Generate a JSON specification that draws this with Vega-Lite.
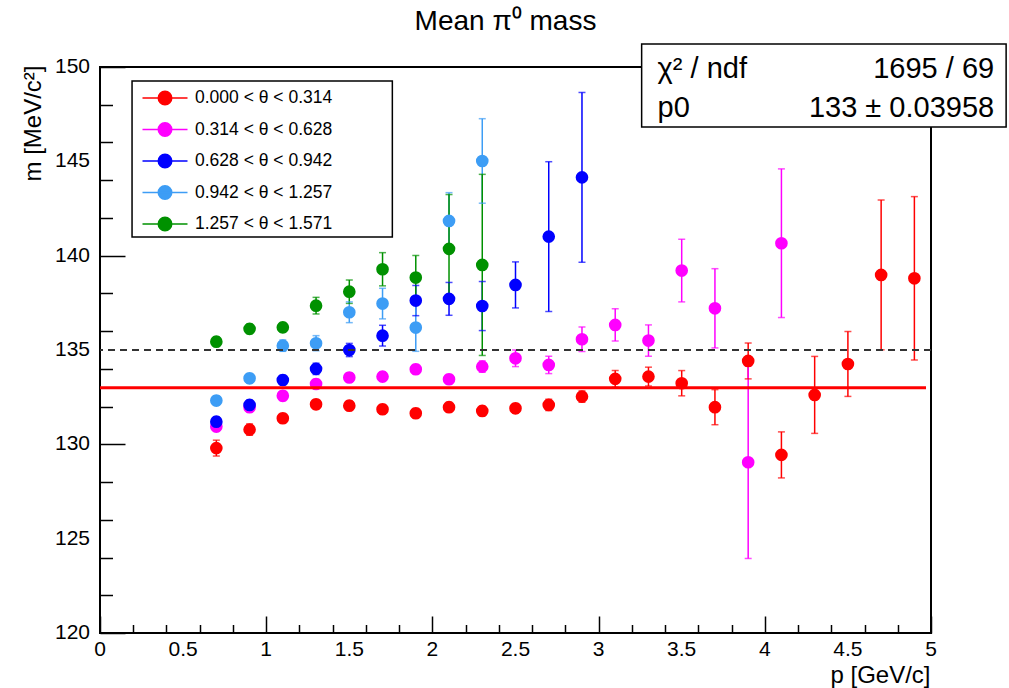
{
  "$schema": "https://vega.github.io/schema/vega-lite/v6.json",
  "width": 831,
  "height": 566,
  "autosize": "none",
  "padding": {"left": 100, "top": 67, "right": 78, "bottom": 55},
  "background": "white",
  "title": {"text": "Mean π⁰ mass", "font": "Liberation Sans", "fontSize": 28, "fontWeight": "normal", "color": "black", "anchor": "middle", "frame": "group", "dx": -10, "dy": 30, "offset": 15, "baseline": "alphabetic"},
  "config": {"view": {"stroke": "black", "strokeWidth": 2}, "font": "Liberation Sans",
    "axisX": {
      "values": [0,0.1,0.2,0.3,0.4,0.5,0.6,0.7,0.8,0.9,1,1.1,1.2,1.3,1.4,1.5,1.6,1.7,1.8,1.9,2,2.1,2.2,2.3,2.4,2.5,2.6,2.7,2.8,2.9,3,3.1,3.2,3.3,3.4,3.5,3.6,3.7,3.8,3.9,4,4.1,4.2,4.3,4.4,4.5,4.6,4.7,4.8,4.9,5],
      "labelExpr": "''",
      "tickSize": {"expr": "abs(datum.value*2 - round(datum.value*2)) < 0.001 ? -17 : -8.5"},
      "tickColor": "black", "tickWidth": 1.5,
      "domain": false, "grid": false,
      "labelPadding": 24,
      "titleFont": "Liberation Sans", "titleFontSize": 24, "titleFontWeight": "normal", "titleColor": "black",
      "titleAnchor": "end", "titleAlign": "right", "titleBaseline": "alphabetic", "titleX": 830, "titleY": 49
    },
    "axisY": {
      "values": [120,121,122,123,124,125,126,127,128,129,130,131,132,133,134,135,136,137,138,139,140,141,142,143,144,145,146,147,148,149,150],
      "labelExpr": "''",
      "tickSize": {"expr": "datum.value % 5 === 0 ? -25 : -12.5"},
      "tickColor": "black", "tickWidth": 1.5,
      "domain": false, "grid": false,
      "labelPadding": 35,
      "titleFont": "Liberation Sans", "titleFontSize": 24, "titleFontWeight": "normal", "titleColor": "black",
      "titleAnchor": "end", "titleAngle": 270, "titleAlign": "right", "titleBaseline": "alphabetic", "titleX": -60, "titleY": -2
    },
    "legend": {
      "orient": "none", "legendX": 52, "legendY": 18,
      "symbolType": "M-1.875,0L1.875,0M0.5625,0A0.5625,0.5625,0,1,1,-0.5625,0A0.5625,0.5625,0,1,1,0.5625,0Z",
      "symbolSize": 576, "symbolStrokeWidth": 1.5, "symbolOpacity": 1,
      "labelFont": "Liberation Sans", "labelFontSize": 17.5, "labelColor": "black",
      "labelOffset": 17, "rowPadding": 8.5, "padding": 0, "labelLimit": 0
    }
  },
  "datasets": {
    "pts": [
      {"s": "0.000 < θ < 0.314", "p": 0.7, "m": 129.8, "lo": 129.38, "hi": 130.22},
      {"s": "0.000 < θ < 0.314", "p": 0.9, "m": 130.78, "lo": 130.48, "hi": 131.08},
      {"s": "0.000 < θ < 0.314", "p": 1.1, "m": 131.38, "lo": 131.13, "hi": 131.63},
      {"s": "0.000 < θ < 0.314", "p": 1.3, "m": 132.12, "lo": 131.87, "hi": 132.37},
      {"s": "0.000 < θ < 0.314", "p": 1.5, "m": 132.05, "lo": 131.8, "hi": 132.3},
      {"s": "0.000 < θ < 0.314", "p": 1.7, "m": 131.86, "lo": 131.61, "hi": 132.11},
      {"s": "0.000 < θ < 0.314", "p": 1.9, "m": 131.65, "lo": 131.4, "hi": 131.9},
      {"s": "0.000 < θ < 0.314", "p": 2.1, "m": 131.97, "lo": 131.72, "hi": 132.22},
      {"s": "0.000 < θ < 0.314", "p": 2.3, "m": 131.77, "lo": 131.52, "hi": 132.02},
      {"s": "0.000 < θ < 0.314", "p": 2.5, "m": 131.91, "lo": 131.66, "hi": 132.16},
      {"s": "0.000 < θ < 0.314", "p": 2.7, "m": 132.09, "lo": 131.79, "hi": 132.39},
      {"s": "0.000 < θ < 0.314", "p": 2.9, "m": 132.53, "lo": 132.23, "hi": 132.83},
      {"s": "0.000 < θ < 0.314", "p": 3.1, "m": 133.47, "lo": 133.02, "hi": 133.92},
      {"s": "0.000 < θ < 0.314", "p": 3.3, "m": 133.59, "lo": 133.09, "hi": 134.09},
      {"s": "0.000 < θ < 0.314", "p": 3.5, "m": 133.24, "lo": 132.57, "hi": 133.91},
      {"s": "0.000 < θ < 0.314", "p": 3.7, "m": 131.97, "lo": 131.04, "hi": 132.9},
      {"s": "0.000 < θ < 0.314", "p": 3.9, "m": 134.42, "lo": 133.47, "hi": 135.37},
      {"s": "0.000 < θ < 0.314", "p": 4.1, "m": 129.44, "lo": 128.22, "hi": 130.66},
      {"s": "0.000 < θ < 0.314", "p": 4.3, "m": 132.62, "lo": 130.58, "hi": 134.66},
      {"s": "0.000 < θ < 0.314", "p": 4.5, "m": 134.26, "lo": 132.54, "hi": 135.98},
      {"s": "0.000 < θ < 0.314", "p": 4.7, "m": 138.98, "lo": 135.01, "hi": 142.95},
      {"s": "0.000 < θ < 0.314", "p": 4.9, "m": 138.8, "lo": 134.47, "hi": 143.13},
      {"s": "0.314 < θ < 0.628", "p": 0.7, "m": 130.94, "lo": 130.69, "hi": 131.19},
      {"s": "0.314 < θ < 0.628", "p": 0.9, "m": 131.97, "lo": 131.72, "hi": 132.22},
      {"s": "0.314 < θ < 0.628", "p": 1.1, "m": 132.57, "lo": 132.32, "hi": 132.82},
      {"s": "0.314 < θ < 0.628", "p": 1.3, "m": 133.2, "lo": 132.95, "hi": 133.45},
      {"s": "0.314 < θ < 0.628", "p": 1.5, "m": 133.54, "lo": 133.29, "hi": 133.79},
      {"s": "0.314 < θ < 0.628", "p": 1.7, "m": 133.59, "lo": 133.34, "hi": 133.84},
      {"s": "0.314 < θ < 0.628", "p": 1.9, "m": 133.98, "lo": 133.73, "hi": 134.23},
      {"s": "0.314 < θ < 0.628", "p": 2.1, "m": 133.45, "lo": 133.2, "hi": 133.7},
      {"s": "0.314 < θ < 0.628", "p": 2.3, "m": 134.12, "lo": 133.82, "hi": 134.42},
      {"s": "0.314 < θ < 0.628", "p": 2.5, "m": 134.56, "lo": 134.12, "hi": 135.0},
      {"s": "0.314 < θ < 0.628", "p": 2.7, "m": 134.21, "lo": 133.75, "hi": 134.67},
      {"s": "0.314 < θ < 0.628", "p": 2.9, "m": 135.57, "lo": 134.92, "hi": 136.22},
      {"s": "0.314 < θ < 0.628", "p": 3.1, "m": 136.33, "lo": 135.48, "hi": 137.18},
      {"s": "0.314 < θ < 0.628", "p": 3.3, "m": 135.5, "lo": 134.67, "hi": 136.33},
      {"s": "0.314 < θ < 0.628", "p": 3.5, "m": 139.21, "lo": 137.55, "hi": 140.87},
      {"s": "0.314 < θ < 0.628", "p": 3.7, "m": 137.21, "lo": 135.11, "hi": 139.31},
      {"s": "0.314 < θ < 0.628", "p": 3.9, "m": 129.05, "lo": 123.95, "hi": 134.15},
      {"s": "0.314 < θ < 0.628", "p": 4.1, "m": 140.66, "lo": 136.72, "hi": 144.6},
      {"s": "0.628 < θ < 0.942", "p": 0.7, "m": 131.2, "lo": 130.95, "hi": 131.45},
      {"s": "0.628 < θ < 0.942", "p": 0.9, "m": 132.09, "lo": 131.84, "hi": 132.34},
      {"s": "0.628 < θ < 0.942", "p": 1.1, "m": 133.41, "lo": 133.16, "hi": 133.66},
      {"s": "0.628 < θ < 0.942", "p": 1.3, "m": 134.0, "lo": 133.7, "hi": 134.3},
      {"s": "0.628 < θ < 0.942", "p": 1.5, "m": 135.0, "lo": 134.65, "hi": 135.35},
      {"s": "0.628 < θ < 0.942", "p": 1.7, "m": 135.76, "lo": 135.21, "hi": 136.31},
      {"s": "0.628 < θ < 0.942", "p": 1.9, "m": 137.62, "lo": 136.82, "hi": 138.42},
      {"s": "0.628 < θ < 0.942", "p": 2.1, "m": 137.71, "lo": 136.84, "hi": 138.58},
      {"s": "0.628 < θ < 0.942", "p": 2.3, "m": 137.33, "lo": 136.03, "hi": 138.63},
      {"s": "0.628 < θ < 0.942", "p": 2.5, "m": 138.45, "lo": 137.23, "hi": 139.67},
      {"s": "0.628 < θ < 0.942", "p": 2.7, "m": 141.01, "lo": 137.04, "hi": 144.98},
      {"s": "0.628 < θ < 0.942", "p": 2.9, "m": 144.15, "lo": 139.65, "hi": 148.65},
      {"s": "0.942 < θ < 1.257", "p": 0.7, "m": 132.32, "lo": 132.07, "hi": 132.57},
      {"s": "0.942 < θ < 1.257", "p": 0.9, "m": 133.5, "lo": 133.25, "hi": 133.75},
      {"s": "0.942 < θ < 1.257", "p": 1.1, "m": 135.23, "lo": 134.93, "hi": 135.53},
      {"s": "0.942 < θ < 1.257", "p": 1.3, "m": 135.36, "lo": 134.96, "hi": 135.76},
      {"s": "0.942 < θ < 1.257", "p": 1.5, "m": 137.0, "lo": 136.45, "hi": 137.55},
      {"s": "0.942 < θ < 1.257", "p": 1.7, "m": 137.46, "lo": 136.65, "hi": 138.27},
      {"s": "0.942 < θ < 1.257", "p": 1.9, "m": 136.19, "lo": 134.93, "hi": 137.45},
      {"s": "0.942 < θ < 1.257", "p": 2.1, "m": 141.84, "lo": 140.34, "hi": 143.34},
      {"s": "0.942 < θ < 1.257", "p": 2.3, "m": 145.02, "lo": 142.78, "hi": 147.26},
      {"s": "1.257 < θ < 1.571", "p": 0.7, "m": 135.44, "lo": 135.19, "hi": 135.69},
      {"s": "1.257 < θ < 1.571", "p": 0.9, "m": 136.12, "lo": 135.87, "hi": 136.37},
      {"s": "1.257 < θ < 1.571", "p": 1.1, "m": 136.2, "lo": 135.95, "hi": 136.45},
      {"s": "1.257 < θ < 1.571", "p": 1.3, "m": 137.35, "lo": 136.91, "hi": 137.79},
      {"s": "1.257 < θ < 1.571", "p": 1.5, "m": 138.09, "lo": 137.47, "hi": 138.71},
      {"s": "1.257 < θ < 1.571", "p": 1.7, "m": 139.28, "lo": 138.4, "hi": 140.16},
      {"s": "1.257 < θ < 1.571", "p": 1.9, "m": 138.84, "lo": 137.67, "hi": 140.01},
      {"s": "1.257 < θ < 1.571", "p": 2.1, "m": 140.36, "lo": 137.48, "hi": 143.24},
      {"s": "1.257 < θ < 1.571", "p": 2.3, "m": 139.51, "lo": 134.71, "hi": 144.31}
    ],
    "xticks": [{"v": 0}, {"v": 0.5}, {"v": 1}, {"v": 1.5}, {"v": 2}, {"v": 2.5}, {"v": 3}, {"v": 3.5}, {"v": 4}, {"v": 4.5}, {"v": 5}],
    "yticks": [{"v": 120}, {"v": 125}, {"v": 130}, {"v": 135}, {"v": 140}, {"v": 145}, {"v": 150}]
  },
  "layer": [
    {
      "data": {"values": [{}]},
      "mark": {"type": "rect", "fill": "white", "stroke": "black", "strokeWidth": 1.5},
      "encoding": {
        "x": {"datum": 0.1928, "type": "quantitative", "title": "p [GeV/c]", "scale": {"domain": [0, 5], "nice": false, "zero": false}},
        "x2": {"datum": 1.759},
        "y": {"datum": 149.258, "type": "quantitative", "title": "m [MeV/c²]", "scale": {"domain": [120, 150], "nice": false, "zero": false}},
        "y2": {"datum": 140.99}
      }
    },
    {
      "data": {"name": "xticks"},
      "mark": {"type": "text", "font": "Liberation Sans", "fontSize": 21, "color": "black", "align": "center", "baseline": "top", "dy": 6},
      "encoding": {
        "x": {"field": "v", "type": "quantitative", "title": "p [GeV/c]", "scale": {"domain": [0, 5], "nice": false, "zero": false}},
        "y": {"datum": 120, "type": "quantitative", "title": "m [MeV/c²]", "scale": {"domain": [120, 150], "nice": false, "zero": false}},
        "text": {"field": "v", "type": "quantitative", "format": "~g"}
      }
    },
    {
      "data": {"name": "yticks"},
      "mark": {"type": "text", "font": "Liberation Sans", "fontSize": 21, "color": "black", "align": "right", "baseline": "middle", "dx": -10},
      "encoding": {
        "x": {"datum": 0, "type": "quantitative", "title": "p [GeV/c]", "scale": {"domain": [0, 5], "nice": false, "zero": false}},
        "y": {"field": "v", "type": "quantitative", "title": "m [MeV/c²]", "scale": {"domain": [120, 150], "nice": false, "zero": false}},
        "text": {"field": "v", "type": "quantitative", "format": "d"}
      }
    },
    {
      "data": {"name": "pts"},
      "mark": {"type": "rule", "strokeWidth": 1.5},
      "encoding": {
        "x": {"field": "p", "type": "quantitative", "title": "p [GeV/c]", "scale": {"domain": [0, 5], "nice": false, "zero": false}},
        "y": {"field": "lo", "type": "quantitative", "title": "m [MeV/c²]", "scale": {"domain": [120, 150], "nice": false, "zero": false}},
        "y2": {"field": "hi"},
        "color": {"field": "s", "type": "nominal", "title": null,
          "scale": {"domain": ["0.000 < θ < 0.314", "0.314 < θ < 0.628", "0.628 < θ < 0.942", "0.942 < θ < 1.257", "1.257 < θ < 1.571"], "range": ["#ff0000", "#ff00ff", "#0000ff", "#3d9df5", "#009100"]},
          "legend": {"orient": "none", "legendX": 52, "legendY": 18, "title": null,
            "encode": {"symbols": {"update": {"fill": {"scale": "color", "field": "value"}, "stroke": {"scale": "color", "field": "value"}}}}}
        }
      }
    },
    {
      "data": {"name": "pts"},
      "mark": {"type": "tick", "orient": "horizontal", "size": 7, "thickness": 1.5},
      "encoding": {
        "x": {"field": "p", "type": "quantitative", "title": "p [GeV/c]", "scale": {"domain": [0, 5], "nice": false, "zero": false}},
        "y": {"field": "lo", "type": "quantitative", "title": "m [MeV/c²]", "scale": {"domain": [120, 150], "nice": false, "zero": false}},
        "color": {"field": "s", "type": "nominal", "title": null,
          "scale": {"domain": ["0.000 < θ < 0.314", "0.314 < θ < 0.628", "0.628 < θ < 0.942", "0.942 < θ < 1.257", "1.257 < θ < 1.571"], "range": ["#ff0000", "#ff00ff", "#0000ff", "#3d9df5", "#009100"]},
          "legend": {"orient": "none", "legendX": 52, "legendY": 18, "title": null,
            "encode": {"symbols": {"update": {"fill": {"scale": "color", "field": "value"}, "stroke": {"scale": "color", "field": "value"}}}}}
        }
      }
    },
    {
      "data": {"name": "pts"},
      "mark": {"type": "tick", "orient": "horizontal", "size": 7, "thickness": 1.5},
      "encoding": {
        "x": {"field": "p", "type": "quantitative", "title": "p [GeV/c]", "scale": {"domain": [0, 5], "nice": false, "zero": false}},
        "y": {"field": "hi", "type": "quantitative", "title": "m [MeV/c²]", "scale": {"domain": [120, 150], "nice": false, "zero": false}},
        "color": {"field": "s", "type": "nominal", "title": null,
          "scale": {"domain": ["0.000 < θ < 0.314", "0.314 < θ < 0.628", "0.628 < θ < 0.942", "0.942 < θ < 1.257", "1.257 < θ < 1.571"], "range": ["#ff0000", "#ff00ff", "#0000ff", "#3d9df5", "#009100"]},
          "legend": {"orient": "none", "legendX": 52, "legendY": 18, "title": null,
            "encode": {"symbols": {"update": {"fill": {"scale": "color", "field": "value"}, "stroke": {"scale": "color", "field": "value"}}}}}
        }
      }
    },
    {
      "data": {"name": "pts"},
      "mark": {"type": "point", "filled": true, "size": 160, "opacity": 1, "shape": "circle"},
      "encoding": {
        "x": {"field": "p", "type": "quantitative", "title": "p [GeV/c]", "scale": {"domain": [0, 5], "nice": false, "zero": false}},
        "y": {"field": "m", "type": "quantitative", "title": "m [MeV/c²]", "scale": {"domain": [120, 150], "nice": false, "zero": false}},
        "color": {"field": "s", "type": "nominal", "title": null,
          "scale": {"domain": ["0.000 < θ < 0.314", "0.314 < θ < 0.628", "0.628 < θ < 0.942", "0.942 < θ < 1.257", "1.257 < θ < 1.571"], "range": ["#ff0000", "#ff00ff", "#0000ff", "#3d9df5", "#009100"]},
          "legend": {"orient": "none", "legendX": 52, "legendY": 18, "title": null,
            "encode": {"symbols": {"update": {"fill": {"scale": "color", "field": "value"}, "stroke": {"scale": "color", "field": "value"}}}}}
        }
      }
    },
    {
      "data": {"values": [{}]},
      "mark": {"type": "rule", "stroke": "#333333", "strokeWidth": 2, "strokeDash": [7, 5]},
      "encoding": {
        "y": {"datum": 135, "type": "quantitative", "title": "m [MeV/c²]", "scale": {"domain": [120, 150], "nice": false, "zero": false}}
      }
    },
    {
      "data": {"values": [{}]},
      "mark": {"type": "rule", "stroke": "#ff0000", "strokeWidth": 3},
      "encoding": {
        "x": {"datum": 0, "type": "quantitative", "title": "p [GeV/c]", "scale": {"domain": [0, 5], "nice": false, "zero": false}},
        "x2": {"datum": 4.97},
        "y": {"datum": 133, "type": "quantitative", "title": "m [MeV/c²]", "scale": {"domain": [120, 150], "nice": false, "zero": false}}
      }
    },
    {
      "data": {"values": [{}]},
      "mark": {"type": "rect", "fill": "white", "stroke": "black", "strokeWidth": 1.5},
      "encoding": {
        "x": {"datum": 3.259, "type": "quantitative", "title": "p [GeV/c]", "scale": {"domain": [0, 5], "nice": false, "zero": false}},
        "x2": {"datum": 5.452},
        "y": {"datum": 151.22, "type": "quantitative", "title": "m [MeV/c²]", "scale": {"domain": [120, 150], "nice": false, "zero": false}},
        "y2": {"datum": 146.82}
      }
    },
    {
      "data": {"values": [{}]},
      "mark": {"type": "text", "font": "Liberation Sans", "fontSize": 29, "color": "black", "align": "left", "baseline": "alphabetic", "text": "χ² / ndf"},
      "encoding": {
        "x": {"datum": 3.355, "type": "quantitative", "title": "p [GeV/c]", "scale": {"domain": [0, 5], "nice": false, "zero": false}},
        "y": {"datum": 149.417, "type": "quantitative", "title": "m [MeV/c²]", "scale": {"domain": [120, 150], "nice": false, "zero": false}}
      }
    },
    {
      "data": {"values": [{}]},
      "mark": {"type": "text", "font": "Liberation Sans", "fontSize": 29, "color": "black", "align": "right", "baseline": "alphabetic", "text": "1695 / 69"},
      "encoding": {
        "x": {"datum": 5.38, "type": "quantitative", "title": "p [GeV/c]", "scale": {"domain": [0, 5], "nice": false, "zero": false}},
        "y": {"datum": 149.417, "type": "quantitative", "title": "m [MeV/c²]", "scale": {"domain": [120, 150], "nice": false, "zero": false}}
      }
    },
    {
      "data": {"values": [{}]},
      "mark": {"type": "text", "font": "Liberation Sans", "fontSize": 29, "color": "black", "align": "left", "baseline": "alphabetic", "text": "p0"},
      "encoding": {
        "x": {"datum": 3.355, "type": "quantitative", "title": "p [GeV/c]", "scale": {"domain": [0, 5], "nice": false, "zero": false}},
        "y": {"datum": 147.35, "type": "quantitative", "title": "m [MeV/c²]", "scale": {"domain": [120, 150], "nice": false, "zero": false}}
      }
    },
    {
      "data": {"values": [{}]},
      "mark": {"type": "text", "font": "Liberation Sans", "fontSize": 29, "color": "black", "align": "right", "baseline": "alphabetic", "text": "133 ± 0.03958"},
      "encoding": {
        "x": {"datum": 5.38, "type": "quantitative", "title": "p [GeV/c]", "scale": {"domain": [0, 5], "nice": false, "zero": false}},
        "y": {"datum": 147.35, "type": "quantitative", "title": "m [MeV/c²]", "scale": {"domain": [120, 150], "nice": false, "zero": false}}
      }
    }
  ]
}
